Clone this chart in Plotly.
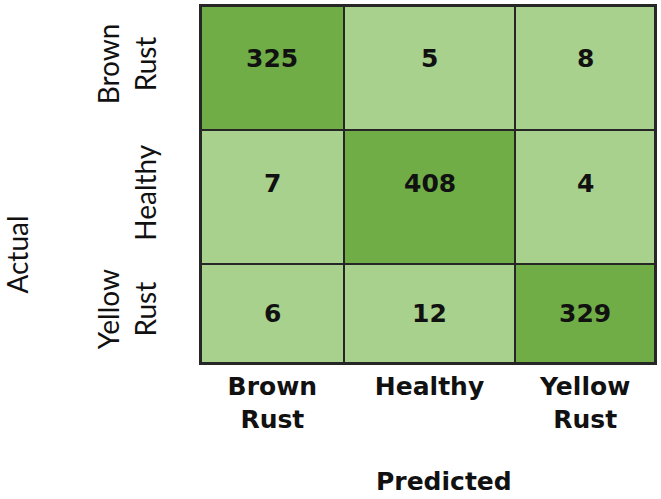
import plotly.graph_objects as go
import numpy as np

# Data
actual_labels = ["Brown<br>Rust", "Healthy", "Yellow<br>Rust"]
predicted_labels = ["Brown<br>Rust", "Healthy", "Yellow<br>Rust"]
counts = [
    [325, 5, 8],
    [7, 408, 4],
    [6, 12, 329],
]

# Layout (cell sizes in px, as in reference)
col_w = [143, 172, 140]
row_h = [125, 134, 100]
row_text_shift = [10, 13, 0]
x_edges = np.concatenate([[0], np.cumsum(col_w)])
y_edges = np.concatenate([[0], np.cumsum(row_h)])
x_centers = (x_edges[:-1] + x_edges[1:]) / 2
y_centers = (y_edges[:-1] + y_edges[1:]) / 2

dark = "#70AD47"
light = "#A9D18E"
border = "#262626"
num_font = dict(family="DejaVu Sans", size=25, color="#111111", weight="bold")
side_font = dict(family="Lato", size=28, color="#111111")

fig = go.Figure(go.Heatmap(
    z=counts,
    x=x_edges,
    y=y_edges,
    colorscale=[[0, light], [0.5, light], [0.5, dark], [1, dark]],
    zmin=0, zmax=408,
    showscale=False,
    xgap=2, ygap=2,
    hoverinfo="skip",
))

annotations = []
for i, row in enumerate(counts):
    for j, v in enumerate(row):
        annotations.append(dict(
            text=str(v), x=x_centers[j], y=y_centers[i], xref="x", yref="y",
            yshift=row_text_shift[i], showarrow=False, font=num_font,
        ))
annotations += [
    dict(text="Predicted", xref="paper", yref="paper", x=0.536, y=-0.333,
         xanchor="center", yanchor="middle", showarrow=False,
         font=dict(family="DejaVu Sans", size=25, color="#111111", weight="bold")),
    dict(text="Actual", xref="paper", yref="paper", x=-0.405, y=0.304,
         xanchor="center", yanchor="middle", showarrow=False, textangle=-90,
         font=side_font),
]

fig.update_layout(
    width=661, height=499,
    margin=dict(l=201, r=5, t=4, b=136),
    plot_bgcolor=border,
    paper_bgcolor="white",
    xaxis=dict(
        range=[0, x_edges[-1]],
        tickvals=x_centers, ticktext=predicted_labels,
        tickfont=dict(family="DejaVu Sans", size=25, color="#111111", weight="bold"),
        showgrid=False, zeroline=False,
        showline=True, mirror=True, linecolor=border, linewidth=2,
        ticks="", ticklabelstandoff=0,
    ),
    yaxis=dict(
        range=[y_edges[-1], 0],
        tickvals=y_centers, ticktext=actual_labels,
        tickangle=-90,
        tickfont=side_font,
        showgrid=False, zeroline=False,
        showline=True, mirror=True, linecolor=border, linewidth=2,
        ticks="", ticklabelstandoff=32,
    ),
    annotations=annotations,
)

fig.write_html("out.html")
